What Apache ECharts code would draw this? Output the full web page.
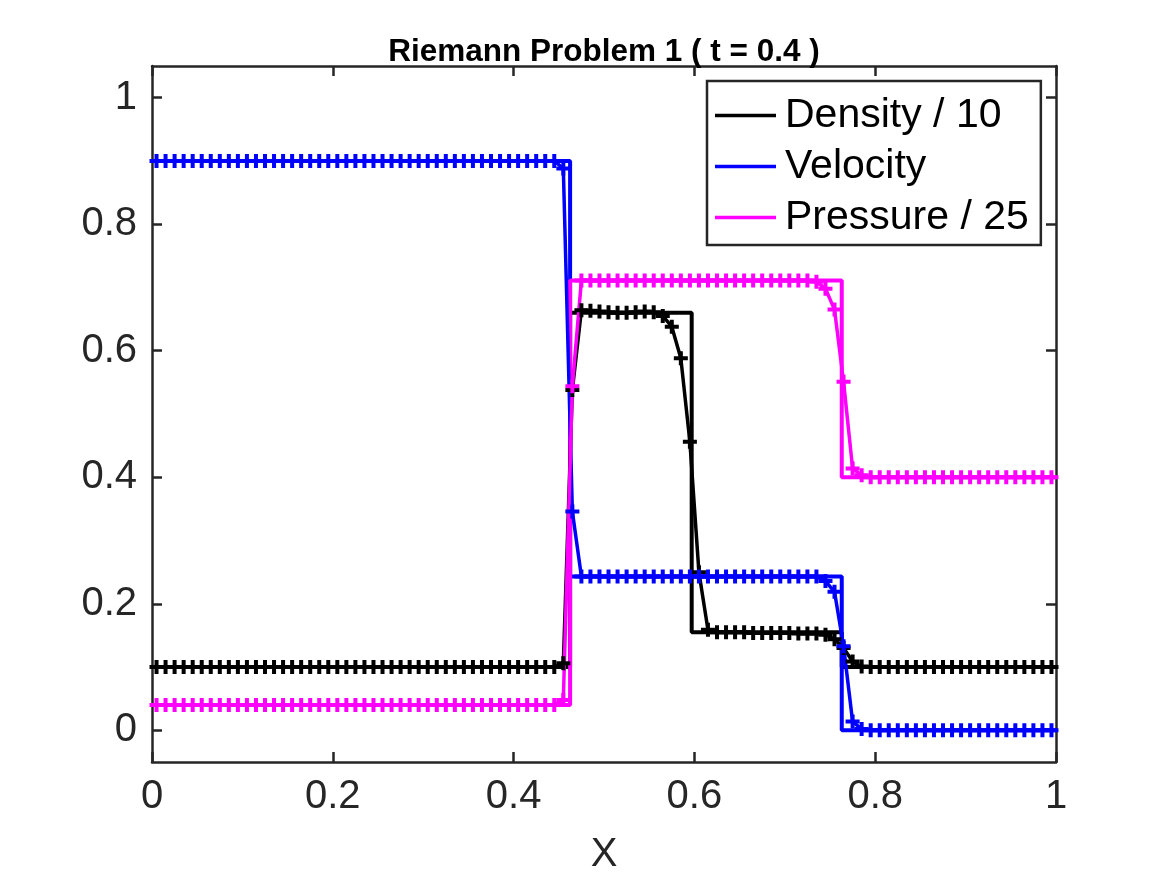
<!DOCTYPE html>
<html>
<head>
<meta charset="utf-8">
<title>Riemann Problem 1</title>
<script src="https://cdn.jsdelivr.net/npm/echarts@6/dist/echarts.min.js"></script>
<style>
  html, body { margin: 0; padding: 0; background: #fff; }
  #chart { width: 1167px; height: 875px; }
</style>
</head>
<body>
<div id="chart"></div>
<script>
// 100 cell centres of the grid on [0, 1]
const cellX = Array.from({ length: 100 }, (_, i) => (i + 0.5) / 100);

// numerical solution (one value per cell)
const densityNum = [
  0.1, 0.1, 0.1, 0.1, 0.1, 0.1, 0.1, 0.1, 0.1, 0.1, 0.1, 0.1, 0.1, 0.1, 0.1,
  0.1, 0.1, 0.1, 0.1, 0.1, 0.1, 0.1, 0.1, 0.1, 0.1, 0.1, 0.1, 0.1, 0.1, 0.1,
  0.1, 0.1, 0.1, 0.1, 0.1, 0.1, 0.1, 0.1, 0.1, 0.1, 0.1, 0.1, 0.1, 0.1, 0.1,
  0.106, 0.538,
  0.664, 0.663, 0.662, 0.661, 0.660, 0.660, 0.661, 0.662, 0.661,
  0.655, 0.638, 0.588, 0.456, 0.250, 0.159,
  0.155, 0.155, 0.155, 0.155, 0.154, 0.154, 0.154, 0.154, 0.154, 0.153, 0.153, 0.153,
  0.151, 0.144, 0.130, 0.109, 0.101,
  0.1, 0.1, 0.1, 0.1, 0.1, 0.1, 0.1, 0.1, 0.1, 0.1, 0.1,
  0.1, 0.1, 0.1, 0.1, 0.1, 0.1, 0.1, 0.1, 0.1, 0.1
];
const velocityNum = [
  0.9, 0.9, 0.9, 0.9, 0.9, 0.9, 0.9, 0.9, 0.9, 0.9, 0.9, 0.9, 0.9, 0.9, 0.9,
  0.9, 0.9, 0.9, 0.9, 0.9, 0.9, 0.9, 0.9, 0.9, 0.9, 0.9, 0.9, 0.9, 0.9, 0.9,
  0.9, 0.9, 0.9, 0.9, 0.9, 0.9, 0.9, 0.9, 0.9, 0.9, 0.9, 0.9, 0.9, 0.9, 0.9,
  0.888, 0.346,
  0.243, 0.243, 0.243, 0.243, 0.243, 0.243, 0.243, 0.243, 0.243,
  0.243, 0.243, 0.243, 0.243, 0.243, 0.243, 0.243, 0.243, 0.243,
  0.243, 0.243, 0.243, 0.243, 0.243, 0.243, 0.243, 0.243, 0.243,
  0.236, 0.219, 0.133, 0.014, 0.002,
  0, 0, 0, 0, 0, 0, 0, 0, 0, 0, 0,
  0, 0, 0, 0, 0, 0, 0, 0, 0, 0
];
const pressureNum = [
  0.04, 0.04, 0.04, 0.04, 0.04, 0.04, 0.04, 0.04, 0.04, 0.04, 0.04, 0.04, 0.04, 0.04, 0.04,
  0.04, 0.04, 0.04, 0.04, 0.04, 0.04, 0.04, 0.04, 0.04, 0.04, 0.04, 0.04, 0.04, 0.04, 0.04,
  0.04, 0.04, 0.04, 0.04, 0.04, 0.04, 0.04, 0.04, 0.04, 0.04, 0.04, 0.04, 0.04, 0.04, 0.04,
  0.048, 0.544,
  0.711, 0.711, 0.711, 0.711, 0.711, 0.711, 0.711, 0.711, 0.711, 0.711, 0.711, 0.711, 0.711,
  0.711, 0.711, 0.711, 0.711, 0.711, 0.711, 0.711, 0.711, 0.711, 0.711, 0.711, 0.711, 0.711,
  0.709, 0.698, 0.665, 0.551, 0.414, 0.403,
  0.4, 0.4, 0.4, 0.4, 0.4, 0.4, 0.4, 0.4, 0.4, 0.4, 0.4,
  0.4, 0.4, 0.4, 0.4, 0.4, 0.4, 0.4, 0.4, 0.4, 0.4
];

// exact solution: left shock, contact, right shock
const exactX        = [0, 0.4625, 0.4625, 0.597, 0.597, 0.763, 0.763, 1];
const exactDensity  = [0.1, 0.1, 0.66, 0.66, 0.155, 0.155, 0.1, 0.1];
const exactVelocity = [0.9, 0.9, 0.243, 0.243, 0.243, 0.243, 0, 0];
const exactPressure = [0.04, 0.04, 0.711, 0.711, 0.711, 0.711, 0.4, 0.4];

const seriesNames = ['Density / 10', 'Velocity', 'Pressure / 25'];
const xTickValues = [0, 0.2, 0.4, 0.6, 0.8, 1];
const xTickLabels = ['0', '0.2', '0.4', '0.6', '0.8', '1'];
const yTickValues = [0, 0.2, 0.4, 0.6, 0.8, 1];
const yTickLabels = ['0', '0.2', '0.4', '0.6', '0.8', '1'];

const FONT = 'Liberation Sans, Arial, Helvetica, sans-serif';
const AXIS = '#262626';
const PLUS = 'path://M5,0H9V5H14V9H9V14H5V9H0V5H5Z';
const colors = ['#000000', '#0000ff', '#ff00ff'];

const pairs = (xs, ys) => xs.map((x, i) => [x, ys[i]]);

const exactSeries = [exactDensity, exactVelocity, exactPressure].map((ys, k) => ({
  name: seriesNames[k],
  type: 'line',
  data: pairs(exactX, ys),
  symbol: 'none',
  color: colors[k],
  lineStyle: { color: colors[k], width: 4 },
  silent: true,
  z: 2
}));

const numSeries = [densityNum, velocityNum, pressureNum].map((ys, k) => ({
  name: seriesNames[k] + ' (num)',
  type: 'line',
  data: pairs(cellX, ys),
  symbol: PLUS,
  symbolSize: 14,
  showAllSymbol: true,
  color: colors[k],
  itemStyle: { color: colors[k], borderWidth: 0 },
  lineStyle: { color: colors[k], width: 3.5 },
  silent: true,
  z: 3
}));

const labelFmt = (vals, labels) => v => {
  const i = vals.findIndex(t => Math.abs(t - v) < 1e-9);
  return i >= 0 ? labels[i] : '';
};

const myChart = echarts.init(document.getElementById('chart'));
myChart.setOption({
  animation: false,
  backgroundColor: '#ffffff',
  title: {
    text: 'Riemann Problem 1 ( t = 0.4 )',
    left: 599,
    textAlign: 'center',
    top: 31,
    textStyle: { fontFamily: FONT, fontSize: 31.5, fontWeight: 'bold', color: '#000' }
  },
  legend: {
    data: seriesNames,
    orient: 'vertical',
    left: 707,
    top: 81,
    icon: 'rect',
    itemWidth: 61,
    itemHeight: 3.5,
    itemGap: 10,
    padding: [14, 12, 7, 8],
    borderColor: AXIS,
    borderWidth: 2.5,
    backgroundColor: '#ffffff',
    selectedMode: false,
    textStyle: { fontFamily: FONT, fontSize: 41, color: '#000', padding: [0, 0, 0, 4] }
  },
  grid: { left: 152, right: 111, top: 66, bottom: 113, outerBoundsMode: 'none' },
  xAxis: [
    {
      type: 'value', min: 0, max: 1,
      name: 'X', nameLocation: 'middle', nameGap: 73,
      nameTextStyle: { fontFamily: FONT, fontSize: 40, color: AXIS },
      axisLine: { show: true, onZero: false, lineStyle: { color: AXIS, width: 2.5 } },
      axisTick: { show: true, inside: true, length: 10, customValues: xTickValues, lineStyle: { color: AXIS, width: 2.5 } },
      axisLabel: { customValues: xTickValues, formatter: labelFmt(xTickValues, xTickLabels), margin: 15, fontFamily: FONT, fontSize: 40, color: AXIS },
      splitLine: { show: false }
    },
    {
      type: 'value', min: 0, max: 1, position: 'top',
      axisLine: { show: true, onZero: false, lineStyle: { color: AXIS, width: 2.5 } },
      axisTick: { show: true, inside: true, length: 10, customValues: xTickValues, lineStyle: { color: AXIS, width: 2.5 } },
      axisLabel: { show: false },
      splitLine: { show: false }
    }
  ],
  yAxis: [
    {
      type: 'value', min: -0.05, max: 1.05,
      axisLine: { show: true, onZero: false, lineStyle: { color: AXIS, width: 2.5 } },
      axisTick: { show: true, inside: true, length: 10, customValues: yTickValues, lineStyle: { color: AXIS, width: 2.5 } },
      axisLabel: { customValues: yTickValues, formatter: labelFmt(yTickValues, yTickLabels), margin: 15, fontFamily: FONT, fontSize: 40, color: AXIS },
      splitLine: { show: false }
    },
    {
      type: 'value', min: -0.05, max: 1.05, position: 'right',
      axisLine: { show: true, onZero: false, lineStyle: { color: AXIS, width: 2.5 } },
      axisTick: { show: true, inside: true, length: 10, customValues: yTickValues, lineStyle: { color: AXIS, width: 2.5 } },
      axisLabel: { show: false },
      splitLine: { show: false }
    }
  ],
  series: exactSeries.concat(numSeries)
});
</script>
</body>
</html>
